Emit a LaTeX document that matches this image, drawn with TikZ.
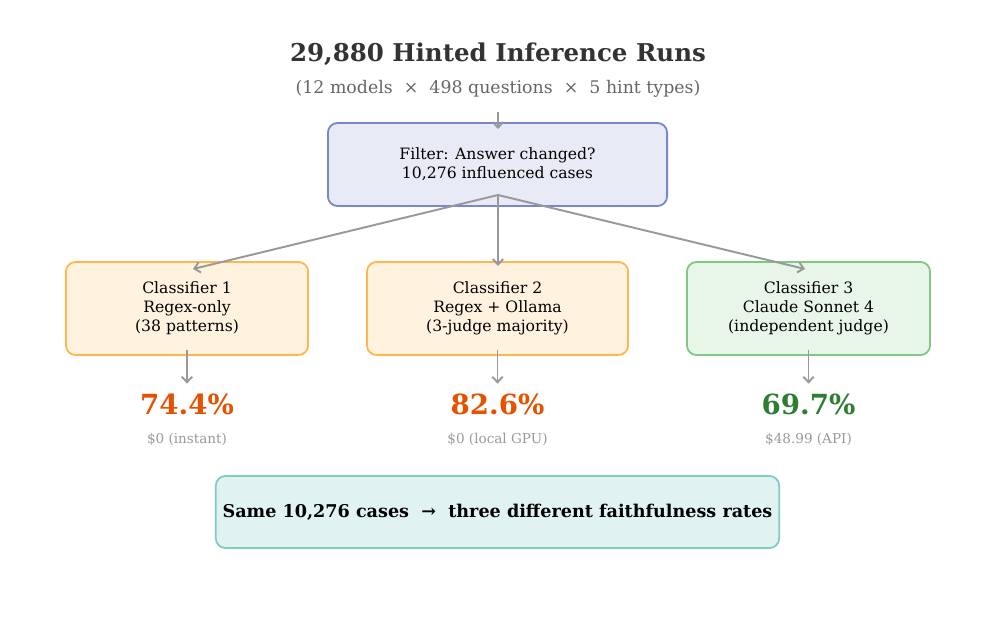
\documentclass[tikz,border=0pt]{standalone}
\usepackage{fontspec}
\setmainfont{DejaVu Serif}
\usetikzlibrary{shapes,arrows,arrows.meta,calc,positioning}
\definecolor{ink}{HTML}{333333}
\definecolor{sub}{HTML}{666666}
\definecolor{arrgray}{HTML}{999999}
\definecolor{bluefill}{HTML}{E8EAF6}\definecolor{blueline}{HTML}{7986CB}
\definecolor{orfill}{HTML}{FFF3E0}\definecolor{orline}{HTML}{FFB74D}
\definecolor{grfill}{HTML}{E8F5E9}\definecolor{grline}{HTML}{81C784}
\definecolor{tlfill}{HTML}{E0F2F1}\definecolor{tlline}{HTML}{80CBC4}
\definecolor{orpct}{HTML}{E65100}\definecolor{grpct}{HTML}{2E7D32}
\tikzset{box/.style={draw, rectangle, rounded corners=7pt, line width=1.3pt, align=center, inner sep=2pt, font=\fontsize{11.3}{13.6}\selectfont}}
\tikzstyle{cls}=[box, fill=orfill, draw=orline, minimum height=0.93in]
\tikzstyle{pct}=[font=\fontsize{20}{24}\selectfont\bfseries]
\tikzstyle{cost}=[text=arrgray, font=\fontsize{9.8}{12}\selectfont]

\begin{document}
\begin{tikzpicture}[x=0.01in, y=-0.01in, >={Straight Barb[length=4pt,width=7.5pt]}, link/.style={->, draw=arrgray, line width=1.4pt}]
\useasboundingbox (0,0) rectangle (996,618);
\node[text=ink, font=\fontsize{17.7}{21}\selectfont\bfseries] (title) at (498,54) {29,880 Hinted Inference Runs};
\node[text=sub, font=\fontsize{12.55}{15}\selectfont] (subtitle) at (498,88.5) {(12 models ~×~ 498 questions ~×~ 5 hint types)};
\node[box, fill=bluefill, draw=blueline, minimum width=3.39in, minimum height=0.83in] (F) at (497.5,164.5) {Filter: Answer changed?\\10,276 influenced cases};
\node[cls, minimum width=2.42in] (C1) at (187,308.5) {Classifier 1\\Regex-only\\(38 patterns)};
\node[cls, minimum width=2.61in] (C2) at (497.5,308.5) {Classifier 2\\Regex + Ollama\\(3-judge majority)};
\node[cls, fill=grfill, draw=grline, minimum width=2.43in] (C3) at (808.5,308.5) {Classifier 3\\Claude Sonnet 4\\(independent judge)};
\node[pct, text=orpct] (P1) at (187,404) {74.4\%};
\node[pct, text=orpct] (P2) at (497.5,404) {82.6\%};
\node[pct, text=grpct] (P3) at (808.5,404) {69.7\%};
\node[cost] (K1) at (187,439) {\$0 (instant)};
\node[cost] (K2) at (497.5,439) {\$0 (local GPU)};
\node[cost] (K3) at (808.5,439) {\$48.99 (API)};
\node[box, fill=tlfill, draw=tlline, minimum width=5.63in, minimum height=0.72in, font=\fontsize{12.7}{15}\selectfont\bfseries] (S) at (497.5,512) {Same 10,276 cases ~→~ three different faithfulness rates};
% connectors
\coordinate (in) at (498,112);
\coordinate (inend) at (498,129);
\coordinate (fork) at (498,195);
\coordinate (t1) at (193,269);
\coordinate (t2) at (498,266);
\coordinate (t3) at (805,269);
\draw[link] (in) -- (inend);
\draw[link] (fork) -- (t1);
\draw[link] (fork) -- (t2);
\draw[link] (fork) -- (t3);
\draw[link] ($(C1.south)+(0,-6)$) -- ($(P1.north)+(0,-5)$);
\draw[link] ($(C2.south)+(0,-6)$) -- ($(P2.north)+(0,-5)$);
\draw[link] ($(C3.south)+(0,-6)$) -- ($(P3.north)+(0,-5)$);
\end{tikzpicture}
\end{document}
